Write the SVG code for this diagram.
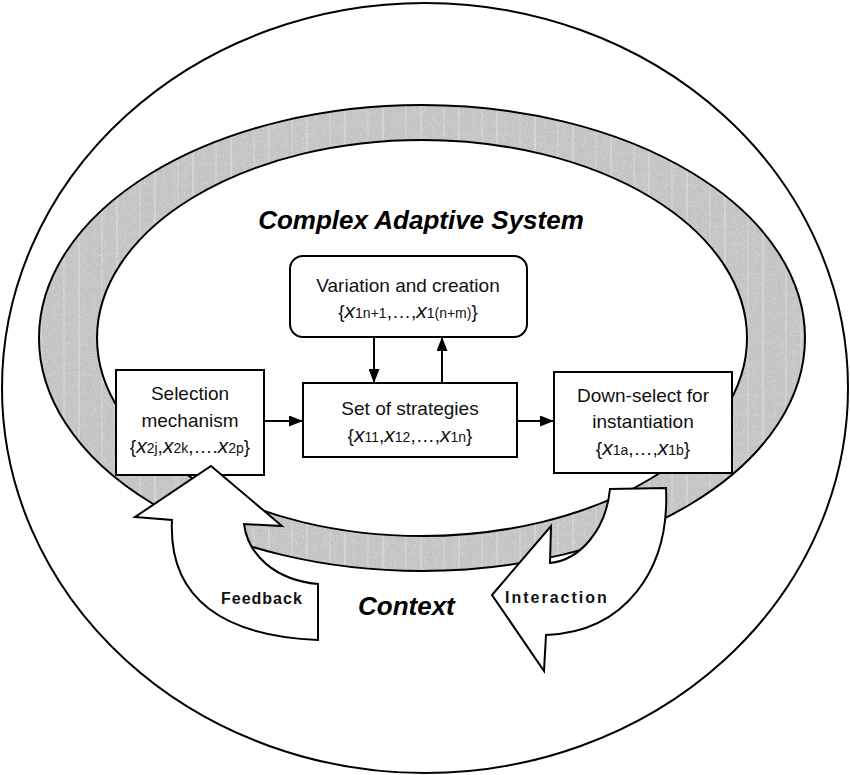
<svg xmlns="http://www.w3.org/2000/svg" width="850" height="775" viewBox="0 0 850 775">
<defs>
<pattern id="grain" patternUnits="userSpaceOnUse" width="38" height="10">
<rect width="38" height="10" fill="#c4c4c4"/>
<line x1="3" y1="0" x2="3" y2="10" stroke="#dedede" stroke-width="1"/>
<line x1="26" y1="0" x2="26" y2="10" stroke="#d6d6d6" stroke-width="1"/>
</pattern>
<filter id="speckle" x="0" y="0" width="1" height="1">
<feTurbulence type="fractalNoise" baseFrequency="0.9" numOctaves="1" seed="3" result="n"/>
<feColorMatrix in="n" type="matrix" values="0 0 0 0 1  0 0 0 0 1  0 0 0 0 1  0 0 0 1.6 -0.9" result="w"/>
<feComposite in="w" in2="SourceGraphic" operator="in" result="wm"/>
<feMerge><feMergeNode in="SourceGraphic"/><feMergeNode in="wm"/></feMerge>
</filter>
<marker id="ah" viewBox="0 0 14 11" refX="14" refY="5.5" markerWidth="14" markerHeight="11" markerUnits="userSpaceOnUse" orient="auto">
<path d="M0,0 L14,5.5 L0,11 Z" fill="#000"/>
</marker>
</defs>
<style>
.box{fill:#fff;stroke:#000;stroke-width:2}
.lbl{font-family:"Liberation Sans",Arial,sans-serif;font-size:19px;fill:#111;text-anchor:middle}
.v{font-style:italic;font-size:21px}
.s{font-family:"Liberation Sans Narrow","Liberation Sans",Arial,sans-serif;font-size:14px}
.title{font-family:"Liberation Sans",Arial,sans-serif;font-weight:bold;font-style:italic;font-size:26px;fill:#000}
.arr{fill:#fff;stroke:#000;stroke-width:2;stroke-linejoin:miter}
.albl{font-family:"Liberation Sans",Arial,sans-serif;font-weight:bold;font-size:16px;fill:#111}
.conn{stroke:#000;stroke-width:2;fill:none;marker-end:url(#ah)}
</style>
<rect width="850" height="775" fill="#fff"/>
<g id="context">
<ellipse cx="425" cy="388" rx="423" ry="385" fill="#fff" stroke="#000" stroke-width="2"/>
</g>
<g id="ring">
<ellipse cx="422" cy="338" rx="383" ry="233" fill="url(#grain)" filter="url(#speckle)"/>
<ellipse cx="422" cy="338" rx="383" ry="233" fill="none" stroke="#000" stroke-width="2"/>
<ellipse cx="422" cy="338" rx="325" ry="198" fill="#fff" stroke="#000" stroke-width="2"/>
</g>
<text class="title" x="421" y="229" text-anchor="middle">Complex Adaptive System</text>
<text class="title" x="358" y="615">Context</text>
<g id="variation">
<rect class="box" x="290" y="256" width="237" height="81" rx="13"/>
<text class="lbl" x="408" y="292">Variation and creation</text>
<text class="lbl" x="408" y="318">{<tspan class="v">x</tspan><tspan class="s">1n+1</tspan>,…,<tspan class="v">x</tspan><tspan class="s">1(n+m)</tspan>}</text>
</g>
<g id="strategies">
<rect class="box" x="303" y="383" width="214" height="74"/>
<text class="lbl" x="410" y="415">Set of strategies</text>
<text class="lbl" x="410" y="442">{<tspan class="v">x</tspan><tspan class="s">11</tspan>,<tspan class="v">x</tspan><tspan class="s">12</tspan>,…,<tspan class="v">x</tspan><tspan class="s">1n</tspan>}</text>
</g>
<g id="selection">
<rect class="box" x="116" y="370" width="148" height="105"/>
<text class="lbl" x="190" y="400">Selection</text>
<text class="lbl" x="190" y="427">mechanism</text>
<text class="lbl" x="190" y="453">{<tspan class="v">x</tspan><tspan class="s">2j</tspan>,<tspan class="v">x</tspan><tspan class="s">2k</tspan>,….<tspan class="v">x</tspan><tspan class="s">2p</tspan>}</text>
</g>
<g id="downselect">
<rect class="box" x="554" y="372" width="178" height="101"/>
<text class="lbl" x="643" y="402">Down-select for</text>
<text class="lbl" x="643" y="428">instantiation</text>
<text class="lbl" x="643" y="455">{<tspan class="v">x</tspan><tspan class="s">1a</tspan>,…,<tspan class="v">x</tspan><tspan class="s">1b</tspan>}</text>
</g>
<g id="connectors">
<line class="conn" x1="264" y1="421" x2="303" y2="421"/>
<line class="conn" x1="517" y1="421" x2="554" y2="421"/>
<line class="conn" x1="374" y1="337" x2="374" y2="383"/>
<line class="conn" x1="442" y1="383" x2="442" y2="337"/>
</g>
<g id="feedback">
<path class="arr" d="M211,466 L282,526 L244,524 C248,555 275,580 318,584 L318,640 C225,636 168,600 172,520 L135,517 Z"/>
<text class="albl" x="221" y="604" letter-spacing="1">Feedback</text>
</g>
<g id="interaction">
<path class="arr" d="M492,595 L551,526 L550,563 C580,560 606,530 610,489 L666,488 C670,570 625,632 546,635 L544,671 Z"/>
<text class="albl" x="505" y="603" letter-spacing="2">Interaction</text>
</g>
</svg>
